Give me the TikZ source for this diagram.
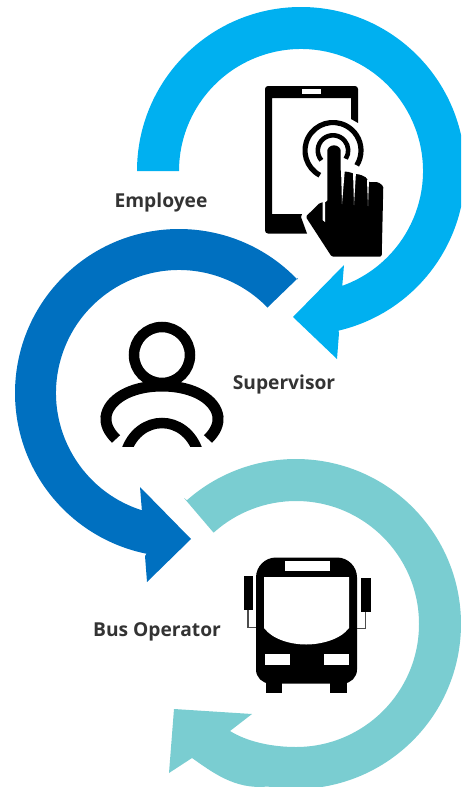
\documentclass[tikz,border=0pt]{standalone}
\usetikzlibrary{calc}
\usepackage{fontspec}
\setmainfont{Open Sans}
\definecolor{lightblue}{HTML}{00B0F0}
\definecolor{darkblue}{HTML}{0070C0}
\definecolor{tealc}{HTML}{7ACDD1}
\definecolor{labelc}{HTML}{333333}
\tikzset{
  lbl/.style={font=\fontsize{19.2}{22}\selectfont\bfseries,text=labelc,inner sep=0pt},
  icon/.style={fill=black,draw=none},
  gapw/.style={fill=white,draw=none},
  strk/.style={draw=black,fill=none}
}
\begin{document}
\begin{tikzpicture}[yscale=-1,x=1pt,y=1pt]
\useasboundingbox (0,0) rectangle (461,787);
\clip (0,0) rectangle (461,787);
% light blue arrow
\coordinate (ca) at (301,171);
\fill[lightblue] ($(ca)+(180:164pt)$) arc[start angle=180,end angle=436.8,radius=164pt]
  -- (339,333) -- (337,359) -- (293,317) -- (344,265) -- (342,289)
  -- ($(ca)+(70.8:122pt)$) arc[start angle=70.8,end angle=-180,radius=122pt] -- cycle;
% dark blue arrow
\coordinate (cb) at (179,393);
\fill[darkblue] (298,278) -- ($(cb)+(316.2:164pt)$) arc[start angle=316.2,end angle=101.4,radius=164pt]
  -- (145,556) -- (147,582) -- (191,539) -- (140,487) -- (142,512)
  -- ($(cb)+(107.3:123pt)$) arc[start angle=107.3,end angle=316,radius=123pt] -- (268,307) -- cycle;
% teal arrow
\coordinate (cc) at (296,624);
\fill[tealc] (184,498) -- ($(cc)+(228.6:165pt)$) arc[start angle=228.6,end angle=460,radius=165pt]
  .. controls (235,790) and (212,772) .. (192,758) -- (169,773) -- (174,709) -- (252,714) -- (230,731)
  .. controls (246,741) and (270,747) .. (296,747)
  -- ($(cc)+(90:123pt)$) arc[start angle=90,end angle=-132,radius=123pt] -- (213,532) -- cycle;
% phone
\fill[icon] (268,86) -- (355,86) arc[start angle=-90,end angle=0,radius=3pt]
  -- (358,123) -- (351,119) -- (351,98) -- (272,98) -- (272,214) -- (302,214) -- (301,217) -- (307,233.5)
  -- (268,233.5) arc[start angle=90,end angle=180,radius=3pt] -- (265,89)
  arc[start angle=180,end angle=270,radius=3pt] -- cycle;
\fill[gapw] (302,89) rectangle (321,94);
% rings
\coordinate (cr) at (333,150.5);
\draw[strk,line width=5.2pt] ($(cr)+(118:28pt)$) arc[start angle=118,end angle=392,radius=28pt];
\draw[strk,line width=4.6pt] ($(cr)+(140:15.2pt)$) arc[start angle=140,end angle=393,radius=15.2pt];
% hand
\def\handpath{(327.3,152) arc[start angle=180,end angle=360,radius=6.7pt]
  -- (340.7,172) -- (342,172) -- (347,171.5) -- (352,173) -- (355,174) -- (360,174.5) -- (367,178)
  -- (368,182) -- (378,182) -- (383.3,186) -- (381.7,256.7) -- (331.7,256.7) -- (305.7,216.7) -- (320,202.7) -- (327.3,202) -- cycle}
\path[fill=black,draw=white,line width=3pt,rounded corners=1.5pt] \handpath;
\fill[icon,rounded corners=1.5pt] \handpath;
\fill[gapw] (341,168) -- (345,168) -- (342,204) -- cycle;
\fill[gapw] (353,172) -- (356,172) -- (354,205) -- cycle;
\fill[gapw] (367,180) -- (369,180) -- (368,206) -- cycle;
\fill[gapw] (322.5,202) -- (325,202) -- (325,222) -- (322.5,220) -- cycle;
% person
\draw[strk,line width=10.5pt] (162,355) circle[radius=28pt];
\draw[strk,line width=11pt] (116,439) .. controls (108,431) and (105.5,424) .. (106,417)
  .. controls (108,400) and (130,386) .. (162,386)
  .. controls (194,386) and (216,400) .. (218,417) .. controls (218.5,424) and (216,431) .. (208,439);
\begin{scope}
\clip (110,400) rectangle (214,446);
\draw[strk,line width=10.5pt] (126,452) .. controls (132,433) and (147,423) .. (162,423)
  .. controls (177,423) and (192,433) .. (198,452);
\end{scope}
% bus
\fill[icon] (276,557.5) -- (337,557.5) arc[start angle=-90,end angle=0,radius=20pt]
  -- (357,669.5) arc[start angle=0,end angle=90,radius=14pt]
  -- (270,683.5) arc[start angle=90,end angle=180,radius=14pt]
  -- (256,577.5) arc[start angle=180,end angle=270,radius=20pt] -- cycle;
\fill[icon] (266,680) rectangle (282,693);
\fill[icon] (330,680) rectangle (347,693);
\fill[gapw] (284.5,561) rectangle (329.5,571);
\fill[gapw] (264,577) -- (349,577) -- (349,628) .. controls (340,640) and (320,644.5) .. (306,644.5)
  .. controls (292,644.5) and (273,640) .. (264,628) -- cycle;
\fill[gapw] (264.5,654) rectangle (289.5,665);
\fill[gapw] (324,654) rectangle (349,665);
\fill[icon] (243.5,576) rectangle (253,610);
\fill[icon] (360.5,578) rectangle (370.5,612);
\draw[black!70,line width=1.4pt] (248,610) -- (248,627.7) -- (256,627.7);
\draw[black!70,line width=1.4pt] (365.5,612) -- (365.5,628.5) -- (357,628.5);
% labels
\node[lbl] (emp) at (161,203) {Employee};
\node[lbl] (sup) at (284,385) {Supervisor};
\node[lbl] (bus) at (157,632) {Bus Operator};
\end{tikzpicture}
\end{document}
